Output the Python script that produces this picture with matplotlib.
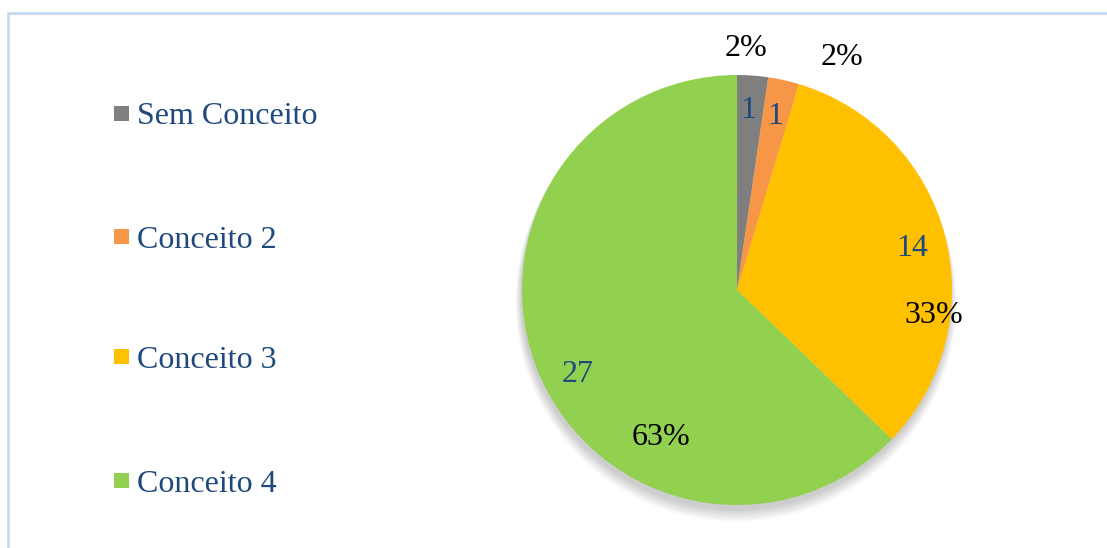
import matplotlib.pyplot as plt
import matplotlib.patches as mpatches
import numpy as np

W, H = 1107, 548

categories = ["Sem Conceito", "Conceito 2", "Conceito 3", "Conceito 4"]
values = [1, 1, 14, 27]
percent_labels = ["2%", "2%", "33%", "63%"]
colors = ["#7F7F7F", "#F79646", "#FFC000", "#92D050"]

LABEL_BLUE = "#1F497D"
FONT = "Liberation Serif"
FS = 23
DY = 3  # deslocamento vertical do texto (pixels)

# posições dos rótulos (ângulo em graus, raio relativo) - ajustados à mão como no original
value_pos = [(86.5, 0.85), (77.9, 0.84), (14.4, 0.84), (-153.0, 0.83)]
pct_pos = [(88.0, 1.14), (65.9, 1.20), (-6.4, 0.92), (-117.7, 0.76)]


def main():
    fig = plt.figure(figsize=(W / 100, H / 100), dpi=100)
    ax = fig.add_axes([0, 0, 1, 1])

    cx, cy, r = 737, H - 290, 215

    # sombra suave
    for k in range(10):
        circ = mpatches.Circle((cx - 1, cy - 5 - k * 0.7), r + k * 0.6,
                               color="black", alpha=0.018, lw=0, zorder=1)
        ax.add_patch(circ)

    ax.pie(values, colors=colors, startangle=90, counterclock=False,
           center=(cx, cy), radius=r, frame=True,
           wedgeprops=dict(linewidth=0, zorder=2))

    for v, (ang, rr) in zip(values, value_pos):
        a = np.deg2rad(ang)
        ax.text(cx + rr * r * np.cos(a), cy + rr * r * np.sin(a) - DY, str(v),
                ha="center", va="center", fontsize=FS, family=FONT,
                color=LABEL_BLUE, zorder=5)
    for p, (ang, rr) in zip(percent_labels, pct_pos):
        a = np.deg2rad(ang)
        ax.text(cx + rr * r * np.cos(a), cy + rr * r * np.sin(a) - DY, p,
                ha="center", va="center", fontsize=FS, family=FONT,
                color="black", zorder=5)

    # legenda
    leg_y = [114, 237, 357, 481]
    for name, c, y in zip(categories, colors, leg_y):
        ax.add_patch(mpatches.Rectangle((114, H - y - 7), 15, 15, color=c, lw=0))
        ax.text(137, H - y - DY, name, ha="left", va="center", fontsize=FS,
                family=FONT, color=LABEL_BLUE)

    # borda da área do gráfico
    ax.plot([8, 8, W], [0, H - 13, H - 13], color="#C6D9F1", lw=2, zorder=0,
            solid_joinstyle="miter")

    ax.set_xlim(0, W)
    ax.set_ylim(0, H)
    ax.set_aspect("auto")
    ax.axis("off")

    fig.savefig("out.png", dpi=100)


if __name__ == '__main__':
    main()
